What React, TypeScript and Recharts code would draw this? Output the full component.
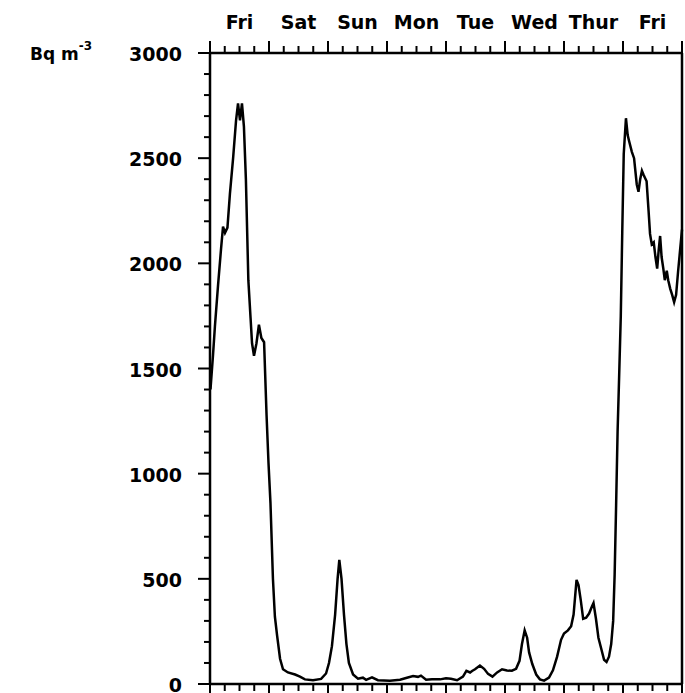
import React from 'react';
import { LineChart, Line, XAxis, YAxis } from 'recharts';

// Hours since Friday 00:00
const hours = [
  0.2, 1.2, 2.0, 3.3, 4.5, 5.3, 6.1, 7.1, 8.1, 9.4,
  10.6, 11.4, 12.2, 13.0, 13.8, 14.6, 15.6, 16.5, 17.1, 17.9,
  18.9, 19.9, 20.9, 22.0, 23.0, 23.8, 24.6, 25.6, 26.4, 27.3,
  28.5, 29.7, 31.7, 34.6, 36.6, 38.6, 41.9, 45.2, 47.2, 48.4,
  49.6, 50.9, 51.9, 52.6, 53.5, 54.5, 55.5, 56.5, 58.2, 60.2,
  62.2, 63.5, 65.9, 68.3, 73.2, 77.3, 80.1, 82.6, 84.6, 85.8,
  87.9, 90.3, 93.6, 96.0, 98.0, 100.5, 102.9, 104.3, 105.8, 106.6,
  107.8, 109.8, 111.5, 113.1, 114.9, 116.8, 118.8, 120.8, 122.8, 124.5,
  125.9, 126.9, 128.0, 129.0, 129.8, 131.1, 132.7, 134.2, 135.9, 137.9,
  139.5, 141.2, 142.8, 144.0, 145.6, 146.9, 147.9, 149.1, 149.9, 150.8,
  151.8, 153.0, 154.2, 155.4, 156.0, 157.0, 158.0, 159.1, 160.3, 161.3,
  162.3, 163.2, 164.0, 164.6, 165.2, 165.8, 166.4, 167.1, 167.7, 168.3,
  169.2, 169.9, 170.5, 171.6, 172.5, 173.6, 174.3, 175.0, 175.7, 176.4,
  177.6, 178.4, 179.0, 179.7, 180.5, 181.2, 181.9, 182.5, 183.1, 183.7,
  184.4, 185.0, 185.8, 186.4, 187.2, 188.0, 188.8, 189.6, 190.4, 191.2,
  192.0,
];

// Radon concentration, Bq m^-3
const radon = [
  1400, 1560, 1700, 1900, 2070, 2175, 2145, 2170, 2330, 2500,
  2680, 2760, 2680, 2760, 2650, 2400, 1920, 1740, 1620, 1560,
  1620, 1708, 1645, 1625, 1280, 1050, 860, 500, 320, 230,
  120, 70, 55, 45, 35, 22, 18, 24, 50, 100,
  180, 330, 500, 590, 500, 330, 190, 100, 45, 25,
  30, 20, 32, 18, 15, 20, 30, 38, 34, 40,
  20, 22, 22, 27, 25, 18, 35, 63, 55, 62,
  70, 88, 72, 48, 35, 55, 70, 64, 63, 72,
  110, 190, 255, 220, 150, 95, 45, 22, 16, 30,
  65, 130, 210, 240, 255, 275, 330, 495, 470, 400,
  310, 315, 335, 370, 385, 310, 220, 170, 115, 105,
  130, 190, 300, 520, 850, 1200, 1450, 1750, 2150, 2520,
  2690, 2610, 2580, 2530, 2500, 2375, 2340, 2400, 2440, 2420,
  2390, 2250, 2140, 2090, 2100, 2030, 1975, 2060, 2130, 2030,
  1975, 1920, 1965, 1920, 1880, 1850, 1815, 1850, 1960, 2060,
  2160,
];

const dayLabels = ['Fri', 'Sat', 'Sun', 'Mon', 'Tue', 'Wed', 'Thur', 'Fri'];
const xTicks = [
  0, 6, 12, 18, 24, 30, 36, 42, 48, 54, 60, 66, 72, 78, 84, 90, 96,
  102, 108, 114, 120, 126, 132, 138, 144, 150, 156, 162, 168, 174, 180, 186, 192,
];
const yTicks = [
  0, 100, 200, 300, 400, 500, 600, 700, 800, 900, 1000, 1100, 1200, 1300, 1400, 1500,
  1600, 1700, 1800, 1900, 2000, 2100, 2200, 2300, 2400, 2500, 2600, 2700, 2800, 2900, 3000,
];
const yLabelTicks = [0, 500, 1000, 1500, 2000, 2500, 3000];

const data = hours.map((h, i) => ({ h, v: radon[i] }));

const FONT = '"DejaVu Sans", Verdana, sans-serif';

const TopTick = (props: any) => {
  const { x, y, payload } = props;
  const v = payload.value;
  const major = v % 24 === 0;
  const day = Math.floor(v / 24);
  return (
    <g>
      <line x1={x} x2={x} y1={y} y2={y - (major ? 12 : 7)} stroke="#000" strokeWidth={2} />
      {v % 24 === 12 && (
        <text
          x={x}
          y={y - 31}
          textAnchor="middle"
          dominantBaseline="central"
          fontFamily={FONT}
          fontWeight="bold"
          fontSize={19}
          fill="#000"
        >
          {dayLabels[day]}
        </text>
      )}
    </g>
  );
};

const BottomTick = (props: any) => {
  const { x, y, payload } = props;
  const major = payload.value % 24 === 0;
  return <line x1={x} x2={x} y1={y} y2={y + (major ? 12 : 7)} stroke="#000" strokeWidth={2} />;
};

const LeftTick = (props: any) => {
  const { x, y, payload } = props;
  const v = payload.value;
  const major = yLabelTicks.includes(v);
  return (
    <g>
      <line x1={x} x2={x - (major ? 12 : 6)} y1={y} y2={y} stroke="#000" strokeWidth={2} />
      {major && (
        <text
          x={x - 28}
          y={y + 1}
          textAnchor="end"
          dominantBaseline="central"
          fontFamily={FONT}
          fontWeight="bold"
          fontSize={19}
          fill="#000"
        >
          {v}
        </text>
      )}
      {v === 3000 && (
        <text
          x={x - 180}
          y={y + 1}
          textAnchor="start"
          dominantBaseline="central"
          fontFamily={FONT}
          fontWeight="bold"
          fontSize={17}
          fill="#000"
        >
          Bq m
          <tspan fontSize={12} dy={-8}>-3</tspan>
        </text>
      )}
    </g>
  );
};

export default function App() {
  return (
    <div style={{ position: 'absolute', top: 8, left: 8, width: 677, height: 685, background: '#fff' }}>
      <LineChart
        width={677}
        height={685}
        data={data}
        margin={{ top: 0, right: 0, bottom: 0, left: 0 }}
      >
        <XAxis
          xAxisId="top"
          orientation="top"
          dataKey="h"
          type="number"
          domain={[0, 192]}
          ticks={xTicks}
          interval={0}
          height={45}
          tickSize={0}
          tickMargin={0}
          tickLine={false}
          axisLine={{ stroke: '#000', strokeWidth: 2.5 }}
          tick={(p: any) => <TopTick {...p} />}
        />
        <XAxis
          xAxisId="bottom"
          orientation="bottom"
          dataKey="h"
          type="number"
          domain={[0, 192]}
          ticks={xTicks}
          interval={0}
          height={9}
          tickSize={0}
          tickMargin={0}
          tickLine={false}
          axisLine={{ stroke: '#000', strokeWidth: 2.5 }}
          tick={(p: any) => <BottomTick {...p} />}
        />
        <YAxis
          yAxisId="left"
          orientation="left"
          type="number"
          domain={[0, 3000]}
          ticks={yTicks}
          interval={0}
          width={202}
          tickSize={0}
          tickMargin={0}
          tickLine={false}
          axisLine={{ stroke: '#000', strokeWidth: 2.5 }}
          tick={(p: any) => <LeftTick {...p} />}
        />
        <YAxis
          yAxisId="right"
          orientation="right"
          type="number"
          domain={[0, 3000]}
          width={3}
          tick={false}
          tickLine={false}
          axisLine={{ stroke: '#000', strokeWidth: 2.5 }}
        />
        <Line
          xAxisId="top"
          yAxisId="left"
          type="linear"
          dataKey="v"
          stroke="#000"
          strokeWidth={2.5}
          dot={false}
          isAnimationActive={false}
        />
      </LineChart>
    </div>
  );
}
